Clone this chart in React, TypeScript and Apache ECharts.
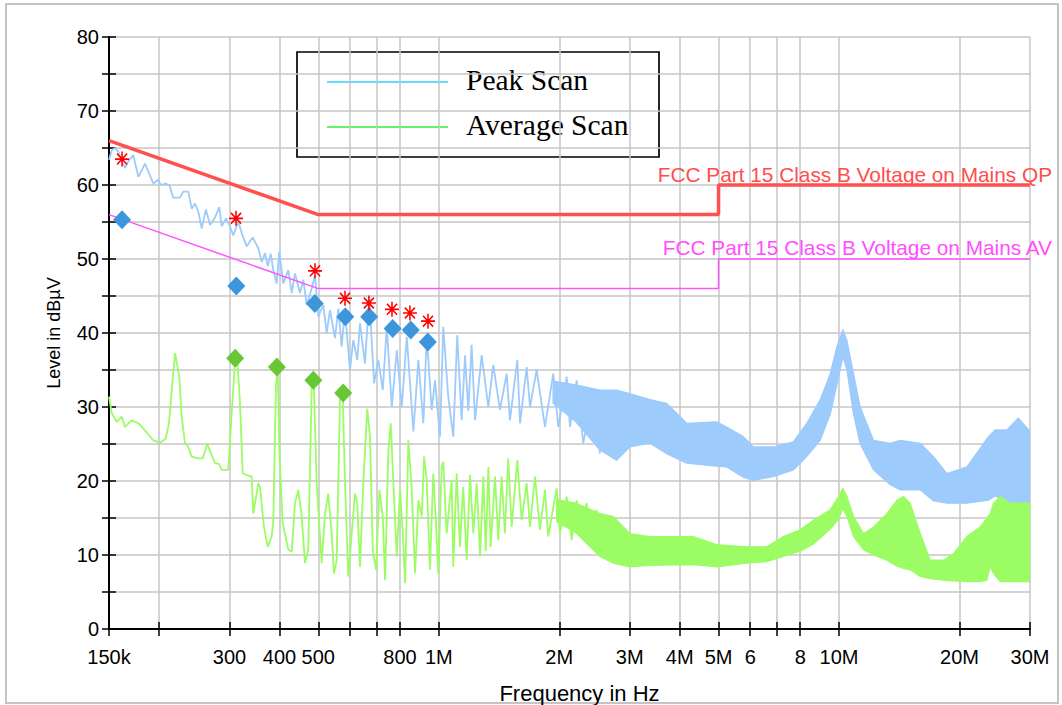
import React, { useEffect, useRef } from 'react';
import * as echarts from 'echarts';

// ---- axis ticks / labels ----
const tickFreqs = [150e3, 200e3, 300e3, 400e3, 500e3, 600e3, 700e3, 800e3, 1e6, 2e6, 3e6, 4e6, 5e6, 6e6, 7e6, 8e6, 10e6, 20e6, 30e6];
const labelFreqs = [150e3, 300e3, 400e3, 500e3, 800e3, 1e6, 2e6, 3e6, 4e6, 5e6, 6e6, 8e6, 10e6, 20e6, 30e6];
const labelTexts = ['150k', '300', '400', '500', '800', '1M', '2M', '3M', '4M', '5M', '6', '8', '10M', '20M', '30M'];

// ---- limit lines (Hz, dBuV) ----
const qpLimitFreq = [150e3, 500e3, 5e6, 5e6, 30e6];
const qpLimitLevel = [66, 56, 56, 60, 60];
const avLimitFreq = [150e3, 500e3, 5e6, 5e6, 30e6];
const avLimitLevel = [56, 46, 46, 50, 50];

// ---- Peak scan, low-frequency trace (kHz, dBuV) ----
const peakFreqK = [150, 152.4, 155.3, 158.2, 164.4, 167.6, 172.5, 177.6, 184.5, 193.6, 199.2, 202, 207.9, 212.7, 216.8, 225.6, 230, 236.7, 241.4, 246, 250.7, 255.7, 262, 268.2, 276, 282.9, 286.8, 294, 300.9, 306.6, 315.6, 321.8, 331.1, 342.8, 354.1, 361.1, 368, 373.8, 380.3, 386, 393.6, 399.5, 408.8, 420.8, 429.1, 437.3, 450.1, 458.7, 467.8, 481.4, 490.6, 500, 514.6, 524.7, 534.8, 550.4, 561, 572, 583, 600, 611.5, 625.7, 635.5, 654, 670.5, 689.2, 706.4, 724.6, 741.4, 763.1, 785.4, 808.3, 831.9, 864, 889.2, 915.1, 933.2, 960, 978.4, 1007, 1026, 1056, 1087, 1112, 1141, 1163, 1185, 1208, 1232, 1280, 1330, 1368, 1422, 1478, 1506, 1571, 1596, 1658, 1690, 1756, 1842, 1932, 1989, 2087, 2127, 2210, 2296, 2432, 2528];
const peakLevel = [63.4, 64.7, 65, 64.5, 62.3, 63.2, 64.05, 61.1, 62.9, 60.2, 60.7, 60, 60.2, 59.9, 58.3, 58.3, 59.1, 59.1, 56.8, 57.5, 56.4, 54.1, 56.7, 54.6, 55.6, 57, 54.4, 55.5, 54.4, 53.2, 55.05, 53.5, 51.7, 52.9, 51.45, 49.6, 50.8, 49, 50.7, 48.5, 46.7, 51, 46.7, 48.5, 45.4, 48.05, 45.4, 47.2, 43.8, 46, 47.8, 42.2, 43.8, 40, 43.1, 39.3, 43.3, 38.2, 43.1, 35, 39.05, 36.35, 41.3, 35.9, 44.9, 33.2, 36.35, 32.3, 40.85, 30.05, 37.7, 30, 39.5, 26.7, 36.35, 27.8, 39.7, 29.6, 33.6, 26, 40.85, 31.4, 26, 39.7, 28.2, 37, 29.5, 38.4, 28.2, 37, 30, 35.7, 29.6, 34.5, 28.2, 36.35, 27.8, 35.4, 30, 35, 27.3, 34.5, 27.3, 34.1, 27.3, 33.6, 25.1, 32.3, 23.7];

// ---- Peak scan, dense band from ~1.9 MHz (kHz, upper / lower envelope) ----
const peakBandFreqK = [1930, 2200, 2528, 2782, 3000, 3369, 3709, 4162, 4945, 5239, 5764, 6105, 6852, 7689, 8305, 8975, 9506, 9880, 10227, 10465, 10870, 11296, 12196, 13420, 14218, 15954, 17222, 18602, 20870, 23630, 24560, 26266, 28050, 30000];
const peakBandUpper = [33.5, 33, 32.3, 32.3, 31.8, 31, 30.5, 27.8, 28, 27.3, 26, 24.6, 24.6, 25.3, 27.8, 31, 34.5, 38.2, 40.4, 39, 34.5, 30, 25.5, 25.1, 25.5, 25.1, 23.3, 21, 21.9, 26, 26.9, 26.9, 28.5, 26.7];
const peakBandLower = [30.5, 28, 24.2, 22.8, 24.6, 25.1, 23.7, 22.4, 22, 21.9, 20.5, 20.1, 20.6, 21.5, 23.3, 25.5, 29, 33, 36.8, 35, 29, 25, 21.5, 19.5, 18.8, 18.8, 17.3, 17, 17, 17.4, 18, 17, 16.8, 16.8];

// ---- Average scan, low-frequency trace (kHz, dBuV) ----
const avgFreqK = [150, 152.4, 156.8, 161.4, 164.4, 170.9, 177.6, 182.7, 193.6, 202, 207.9, 211.8, 215.9, 219.3, 224.7, 227.9, 232.2, 236.7, 241.4, 250.7, 257.1, 264, 270.8, 276, 282.4, 286.8, 298, 303.8, 309.6, 313.8, 318.7, 323.7, 331.1, 340.9, 344, 354.1, 357.6, 365.8, 373.8, 382.4, 386, 392, 396, 399.5, 407.4, 420.8, 429.1, 437.3, 445.7, 454.5, 463.2, 472, 481.4, 487, 495.4, 509.9, 519.7, 529.6, 540, 547.2, 555.8, 566.5, 575.3, 583, 594.2, 605.9, 617.5, 625.7, 635.5, 647.7, 662.8, 673.1, 684.1, 697.2, 710.6, 724.6, 734.2, 748.3, 758.7, 770.2, 785.4, 800.5, 813, 823.8, 839.6, 856.1, 872.5, 889.2, 906.8, 918.8, 933.2, 950.6, 968.9, 984, 997, 1016.8, 1026, 1046.5, 1077, 1087, 1108.5, 1129.6, 1151, 1174, 1197, 1220, 1244, 1268, 1292, 1310, 1330, 1348, 1382, 1408, 1436, 1463, 1491, 1521, 1571, 1611, 1658, 1690, 1739, 1790, 1842, 1877, 1970, 2008, 2087, 2148, 2210, 2275, 2341, 2410, 2480, 2576];
const avgLevel = [31.4, 29.15, 28, 28.7, 27.3, 28.2, 27.8, 27.1, 25.5, 25.2, 25.75, 27.8, 33.2, 37.3, 34.1, 28.7, 25.1, 24.6, 23.3, 23.05, 23.05, 25, 23.5, 22.4, 22.3, 21.5, 21.5, 29.15, 35.9, 36.35, 30.5, 21.05, 20.8, 20.6, 15.6, 19.7, 19.2, 13.8, 11.1, 12.5, 14.7, 33, 35.4, 24.2, 14.3, 10.7, 10.45, 17, 18.8, 15.2, 8.9, 10.7, 32.7, 33.4, 19.7, 8.9, 15.6, 18.3, 12.9, 7.5, 9.3, 30.9, 31.85, 19.7, 7.1, 12.9, 18.3, 17, 8.4, 19.7, 29.8, 26, 10.7, 8, 18.8, 15.2, 6.6, 24.2, 27.8, 19.7, 9.8, 18.8, 12.9, 6.2, 25.5, 18.8, 7.5, 17.4, 15.2, 23.3, 20.1, 8, 21, 14.3, 7.5, 21.9, 22.6, 12.9, 20.1, 8.4, 21.05, 11.1, 19.2, 9.3, 20.8, 12.9, 19.7, 9.8, 20.6, 10.5, 21.9, 11.1, 20.6, 12, 20.6, 12.9, 23.05, 13.8, 22.8, 14.7, 19.7, 13.8, 20.6, 13.4, 18.8, 12.5, 19, 12.9, 17.9, 12, 17.4, 12.9, 17, 11.1, 16.1, 9.8];

// ---- Average scan, dense band from ~2 MHz ----
const avgBandFreqK = [1970, 2200, 2528, 2729, 3000, 3369, 4323, 4945, 5876, 6598, 7258, 8000, 8627, 9506, 9971, 10227, 10465, 10870, 11513, 12196, 13169, 13950, 14490, 15060, 15954, 16898, 18242, 19322, 20870, 22532, 23412, 23862, 24320, 25278, 26782, 30000];
const avgBandUpper = [17.5, 17, 15.6, 15.2, 12.9, 12.5, 12.5, 11.4, 11.1, 11.1, 12.5, 13.4, 14.7, 16.1, 17.9, 19, 17.9, 15.2, 12.9, 13.8, 15.6, 17.4, 17.9, 17, 12.9, 9.3, 9.3, 10.2, 12.5, 13.8, 15, 15.6, 17, 17.9, 17, 17];
const avgBandLower = [14.5, 13, 9.8, 8.9, 8.4, 8.6, 8.7, 8.4, 8.9, 9.1, 9.8, 10.5, 11.5, 13.5, 14.8, 16.3, 15.2, 12.5, 10.7, 10, 9.3, 8.5, 8.2, 8, 7.1, 6.8, 6.6, 6.5, 6.4, 6.4, 6.6, 8.4, 7.5, 6.4, 6.4, 6.4];

// ---- final measurement markers ----
const qpStarFreqK = [161.7, 311.5, 490.7, 583, 669, 764, 847, 940];
const qpStarLevel = [63.5, 55.5, 48.4, 44.7, 44.05, 43.2, 42.7, 41.6];
const qpDiamondFreqK = [161.7, 312, 490, 584, 670, 767, 851, 939];
const qpDiamondLevel = [55.3, 46.35, 44.0, 42.2, 42.2, 40.6, 40.4, 38.8];
const avDiamondFreqK = [310, 394, 486, 577];
const avDiamondLevel = [36.6, 35.4, 33.6, 31.9];

const lgHz = (hz: number) => Math.log10(hz);
const lgK = (k: number) => Math.log10(k * 1000);
const pairsK = (f: number[], v: number[]) => f.map((x, i) => [lgK(x), v[i]]);
const pairsHz = (f: number[], v: number[]) => f.map((x, i) => [lgHz(x), v[i]]);

const tickPos = tickFreqs.map(lgHz);
const labelPos = labelFreqs.map(lgHz);

const SANS = '"Liberation Sans", Arial, sans-serif';
const SERIF = '"Liberation Serif", "Times New Roman", serif';

function bandSeries(freqK: number[], up: number[], low: number[], color: string, z: number) {
  return {
    type: 'custom',
    coordinateSystem: 'cartesian2d',
    xAxisIndex: 0,
    yAxisIndex: 0,
    silent: true,
    z,
    clip: true,
    data: freqK.map((f, i) => [lgK(f), up[i], low[i]]),
    encode: { x: 0, y: [1, 2] },
    renderItem: (params: any, api: any) => {
      if (params.dataIndex !== 0) return null;
      const pts: number[][] = [];
      for (let i = 0; i < freqK.length; i++) pts.push(api.coord([lgK(freqK[i]), up[i]]));
      for (let i = freqK.length - 1; i >= 0; i--) pts.push(api.coord([lgK(freqK[i]), low[i]]));
      return {
        type: 'polygon',
        shape: { points: pts },
        style: { fill: color, stroke: color, lineWidth: 1.2 },
      };
    },
  };
}

const starPath = 'path://M0,-1L0,1M-1,0L1,0M-0.72,-0.72L0.72,0.72M-0.72,0.72L0.72,-0.72';

export default function App() {
  const ref = useRef<HTMLDivElement>(null);
  useEffect(() => {
    document.body.style.margin = '0';
    if (!ref.current) return;
    const chart = echarts.init(ref.current, null, { renderer: 'svg' });
    const xMin = lgHz(150e3);
    const xMax = lgHz(30e6);
    const option: any = {
      animation: false,
      backgroundColor: '#ffffff',
      grid: { left: 109, right: 32, top: 37, bottom: 76, containLabel: false, outerBoundsMode: 'none' },
      xAxis: [
        {
          type: 'value',
          position: 'bottom',
          min: xMin,
          max: xMax,
          name: 'Frequency in Hz',
          nameLocation: 'middle',
          nameGap: 53,
          nameTextStyle: { fontFamily: SANS, fontSize: 22, color: '#000', padding: [0, 0, 0, 20] },
          axisLine: { show: true, lineStyle: { color: '#000', width: 2 } },
          axisTick: { show: true, customValues: tickPos, length: 7, lineStyle: { color: '#000', width: 1.5 } },
          axisLabel: {
            customValues: labelPos,
            margin: 18,
            fontFamily: SANS,
            fontSize: 20,
            color: '#000',
            formatter: (v: number) => {
              const i = labelPos.findIndex((p) => Math.abs(p - v) < 1e-6);
              return i >= 0 ? labelTexts[i] : '';
            },
          },
          splitLine: { show: true, lineStyle: { color: '#c6c6c6', width: 1.5 } },
        },
        {
          type: 'value',
          position: 'bottom',
          min: xMin,
          max: xMax,
          axisLine: { show: false },
          axisTick: { show: true, inside: true, customValues: tickPos, length: 7, lineStyle: { color: '#000', width: 1.5 } },
          axisLabel: { show: false },
          splitLine: { show: false },
        },
      ],
      yAxis: [
        {
          type: 'value',
          min: 0,
          max: 80,
          interval: 5,
          name: 'Level in dBµV',
          nameLocation: 'middle',
          nameGap: 46,
          nameRotate: 90,
          nameTextStyle: { fontFamily: SANS, fontSize: 18, color: '#000' },
          axisLine: { show: true, lineStyle: { color: '#000', width: 2 } },
          axisTick: { show: true, length: 7, lineStyle: { color: '#000', width: 1.5 } },
          axisLabel: {
            margin: 10,
            fontFamily: SANS,
            fontSize: 20,
            color: '#000',
            formatter: (v: number) => (v % 10 === 0 ? String(v) : ''),
          },
          splitLine: { show: true, lineStyle: { color: '#c6c6c6', width: 1.5 } },
        },
        {
          type: 'value',
          position: 'left',
          min: 0,
          max: 80,
          interval: 5,
          axisLine: { show: false },
          axisTick: { show: true, inside: true, length: 7, lineStyle: { color: '#000', width: 1.5 } },
          axisLabel: { show: false },
          splitLine: { show: false },
        },
      ],
      graphic: [
        {
          type: 'rect',
          silent: true,
          shape: { x: 6, y: 4, width: 1052, height: 699 },
          style: { fill: 'none', stroke: '#c4c4c4', lineWidth: 2 },
          z: -10,
        },
        {
          type: 'group',
          z: 100,
          children: [
            { type: 'rect', shape: { x: 297, y: 52, width: 362, height: 105 }, style: { fill: 'none', stroke: '#000', lineWidth: 1.7 } },
            { type: 'line', shape: { x1: 327, y1: 82, x2: 448, y2: 82 }, style: { stroke: '#33ccff', lineWidth: 1.5 } },
            { type: 'line', shape: { x1: 327, y1: 127, x2: 448, y2: 127 }, style: { stroke: '#33ee33', lineWidth: 1.5 } },
            { type: 'text', x: 466, y: 79.5, style: { text: 'Peak Scan', font: '29.5px ' + SERIF, fill: '#000', verticalAlign: 'middle', align: 'left' } },
            { type: 'text', x: 466, y: 124.5, style: { text: 'Average Scan', font: '29.5px ' + SERIF, fill: '#000', verticalAlign: 'middle', align: 'left' } },
          ],
        },
        { type: 'text', z: 100, x: 1052, y: 174, style: { text: 'FCC Part 15 Class B Voltage on Mains QP', font: '20.8px ' + SANS, fill: '#ff4d4d', align: 'right', verticalAlign: 'middle' } },
        { type: 'text', z: 100, x: 1052, y: 247, style: { text: 'FCC Part 15 Class B Voltage on Mains AV', font: '20.8px ' + SANS, fill: '#ff4dff', align: 'right', verticalAlign: 'middle' } },
      ],
      series: [
        bandSeries(peakBandFreqK, peakBandUpper, peakBandLower, '#9ccbfc', 2),
        {
          type: 'line',
          name: 'Peak Scan',
          data: pairsK(peakFreqK, peakLevel),
          showSymbol: false,
          silent: true,
          z: 2,
          lineStyle: { color: '#9ccbfc', width: 1.8 },
        },
        bandSeries(avgBandFreqK, avgBandUpper, avgBandLower, '#9cfc64', 3),
        {
          type: 'line',
          name: 'Average Scan',
          data: pairsK(avgFreqK, avgLevel),
          showSymbol: false,
          silent: true,
          z: 3,
          lineStyle: { color: '#9cfc64', width: 1.8 },
        },
        {
          type: 'line',
          name: 'QP limit',
          data: pairsHz(qpLimitFreq, qpLimitLevel),
          showSymbol: false,
          silent: true,
          z: 4,
          lineStyle: { color: '#ff5050', width: 3.5 },
        },
        {
          type: 'line',
          name: 'AV limit',
          data: pairsHz(avLimitFreq, avLimitLevel),
          showSymbol: false,
          silent: true,
          z: 4,
          lineStyle: { color: '#ff55ff', width: 1.5 },
        },
        {
          type: 'scatter',
          name: 'QP final',
          data: pairsK(qpDiamondFreqK, qpDiamondLevel),
          symbol: 'diamond',
          symbolSize: [18, 19],
          silent: true,
          z: 5,
          itemStyle: { color: '#3d96dc', opacity: 1 },
        },
        {
          type: 'scatter',
          name: 'AV final',
          data: pairsK(avDiamondFreqK, avDiamondLevel),
          symbol: 'diamond',
          symbolSize: [18, 19],
          silent: true,
          z: 5,
          itemStyle: { color: '#66c832', opacity: 1 },
        },
        {
          type: 'scatter',
          name: 'Peak detections',
          data: pairsK(qpStarFreqK, qpStarLevel),
          symbol: starPath,
          symbolSize: [14, 15],
          silent: true,
          z: 6,
          itemStyle: { color: '#ff0000', borderColor: '#ff0000', borderWidth: 1.6, opacity: 1 },
        },
      ],
    };
    chart.setOption(option);
    return () => chart.dispose();
  }, []);
  return <div ref={ref} style={{ width: 1062, height: 705 }} />;
}
